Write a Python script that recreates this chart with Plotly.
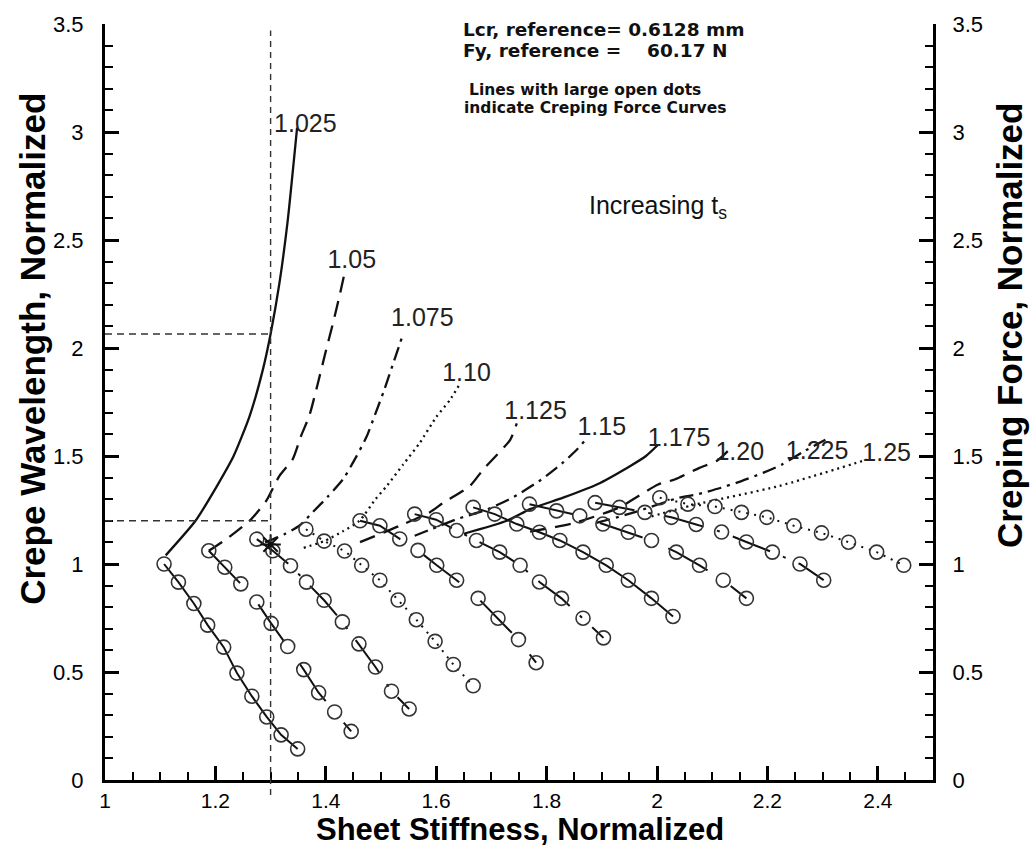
import plotly.graph_objects as go

# ---------------- data ----------------
ts_labels = ["1.025", "1.05", "1.075", "1.10", "1.125", "1.15", "1.175", "1.20", "1.225", "1.25"]
line_styles = ["solid", "long", "dashdot", "dot", "long", "dashdot", "solid", "long", "dashdot", "dot"]

# Creping force curves (large open dots)
fx_1025 = [1.107, 1.133, 1.161, 1.186, 1.215, 1.239, 1.266, 1.293, 1.319, 1.349]
fy_1025 = [1.000, 0.916, 0.817, 0.717, 0.615, 0.495, 0.388, 0.292, 0.209, 0.144]
fx_105 = [1.188, 1.217, 1.246, 1.275, 1.301, 1.331, 1.360, 1.387, 1.416, 1.446]
fy_105 = [1.061, 0.985, 0.908, 0.824, 0.725, 0.618, 0.511, 0.404, 0.315, 0.225]
fx_1075 = [1.275, 1.304, 1.336, 1.365, 1.397, 1.430, 1.460, 1.490, 1.519, 1.551]
fy_1075 = [1.115, 1.061, 0.992, 0.916, 0.832, 0.732, 0.630, 0.523, 0.411, 0.329]
fx_110 = [1.364, 1.397, 1.434, 1.465, 1.498, 1.531, 1.564, 1.598, 1.631, 1.667]
fy_110 = [1.161, 1.106, 1.060, 0.994, 0.925, 0.833, 0.742, 0.642, 0.535, 0.436]
fx_1125 = [1.462, 1.498, 1.534, 1.567, 1.601, 1.637, 1.676, 1.712, 1.749, 1.781]
fy_1125 = [1.200, 1.177, 1.116, 1.063, 0.994, 0.925, 0.841, 0.749, 0.650, 0.543]
fx_115 = [1.561, 1.600, 1.637, 1.673, 1.715, 1.752, 1.787, 1.827, 1.866, 1.903]
fy_115 = [1.231, 1.205, 1.155, 1.109, 1.055, 0.994, 0.917, 0.841, 0.749, 0.658]
fx_1175 = [1.667, 1.706, 1.746, 1.787, 1.824, 1.866, 1.908, 1.948, 1.990, 2.029]
fy_1175 = [1.262, 1.231, 1.185, 1.147, 1.109, 1.055, 0.994, 0.925, 0.841, 0.757]
fx_120 = [1.769, 1.818, 1.860, 1.902, 1.948, 1.990, 2.035, 2.077, 2.120, 2.162]
fy_120 = [1.277, 1.246, 1.223, 1.185, 1.147, 1.109, 1.055, 0.994, 0.925, 0.841]
fx_1225 = [1.888, 1.932, 1.978, 2.026, 2.071, 2.117, 2.162, 2.209, 2.259, 2.302]
fy_1225 = [1.284, 1.262, 1.239, 1.216, 1.183, 1.148, 1.102, 1.055, 1.000, 0.925]
fx_125 = [2.005, 2.056, 2.105, 2.153, 2.199, 2.248, 2.298, 2.347, 2.398, 2.447]
fy_125 = [1.307, 1.277, 1.266, 1.239, 1.216, 1.177, 1.144, 1.101, 1.055, 0.994]

# Crepe wavelength curves (plain lines)
wx_1025 = [1.110, 1.164, 1.203, 1.233, 1.262, 1.286, 1.300, 1.316, 1.331, 1.348]
wy_1025 = [1.040, 1.200, 1.362, 1.500, 1.685, 1.900, 2.065, 2.300, 2.590, 3.020]
wx_105 = [1.188, 1.224, 1.265, 1.292, 1.316, 1.340, 1.355, 1.370, 1.385, 1.400, 1.413, 1.426, 1.436]
wy_105 = [1.061, 1.123, 1.208, 1.292, 1.408, 1.485, 1.592, 1.685, 1.830, 1.985, 2.115, 2.254, 2.370]
wx_1075 = [1.290, 1.325, 1.352, 1.376, 1.403, 1.432, 1.455, 1.474, 1.489, 1.505, 1.521, 1.538]
wy_1075 = [1.100, 1.138, 1.177, 1.239, 1.310, 1.395, 1.496, 1.590, 1.690, 1.800, 1.920, 2.050]
wx_110 = [1.360, 1.397, 1.430, 1.461, 1.490, 1.510, 1.540, 1.570, 1.600, 1.625, 1.642]
wy_110 = [1.075, 1.106, 1.150, 1.200, 1.300, 1.360, 1.460, 1.560, 1.680, 1.760, 1.830]
wx_1125 = [1.462, 1.534, 1.588, 1.613, 1.661, 1.685, 1.734, 1.746]
wy_1125 = [1.101, 1.177, 1.239, 1.284, 1.361, 1.437, 1.575, 1.651]
wx_115 = [1.561, 1.592, 1.640, 1.690, 1.740, 1.790, 1.830, 1.855, 1.872]
wy_115 = [1.131, 1.162, 1.210, 1.250, 1.310, 1.390, 1.470, 1.530, 1.580]
wx_1175 = [1.650, 1.728, 1.770, 1.830, 1.891, 1.951, 1.980, 2.002]
wy_1175 = [1.140, 1.200, 1.254, 1.307, 1.368, 1.453, 1.500, 1.552]
wx_120 = [1.770, 1.850, 1.930, 2.002, 2.032, 2.077, 2.110, 2.135]
wy_120 = [1.150, 1.190, 1.260, 1.368, 1.391, 1.445, 1.480, 1.540]
wx_1225 = [1.890, 1.960, 2.040, 2.072, 2.116, 2.153, 2.192, 2.226, 2.266, 2.305]
wy_1225 = [1.190, 1.240, 1.307, 1.322, 1.353, 1.384, 1.422, 1.460, 1.521, 1.575]
wx_125 = [1.990, 2.064, 2.221, 2.380]
wy_125 = [1.220, 1.272, 1.361, 1.483]

# curve label positions
label_x = [1.363, 1.447, 1.575, 1.655, 1.780, 1.900, 2.040, 2.150, 2.290, 2.416]
label_y = [3.030, 2.400, 2.130, 1.875, 1.700, 1.625, 1.575, 1.510, 1.514, 1.506]

# reference point and guide lines
ref_x = [1.30]
ref_y = [1.09]
guide_x = 1.30
guide_y_hi = 2.065
guide_y_lo = 1.20

x_ticks = [1.0, 1.2, 1.4, 1.6, 1.8, 2.0, 2.2, 2.4]
x_ticktext = ["1", "1.2", "1.4", "1.6", "1.8", "2", "2.2", "2.4"]
y_ticks = [0, 0.5, 1, 1.5, 2, 2.5, 3, 3.5]
y_ticktext = ["0", "0.5", "1", "1.5", "2", "2.5", "3", "3.5"]

force_x = [fx_1025, fx_105, fx_1075, fx_110, fx_1125, fx_115, fx_1175, fx_120, fx_1225, fx_125]
force_y = [fy_1025, fy_105, fy_1075, fy_110, fy_1125, fy_115, fy_1175, fy_120, fy_1225, fy_125]
wave_x = [wx_1025, wx_105, wx_1075, wx_110, wx_1125, wx_115, wx_1175, wx_120, wx_1225, wx_125]
wave_y = [wy_1025, wy_105, wy_1075, wy_110, wy_1125, wy_115, wy_1175, wy_120, wy_1225, wy_125]

# ---------------- styling ----------------
INK = "#111111"
wave_dash = {"solid": "solid", "long": "16px,9px", "dashdot": "14px,6px,3px,6px", "dot": "2px,4px"}
force_dash = {"solid": "solid", "long": "45px,28px", "dashdot": "40px,14px,3px,14px", "dot": "2px,6px"}
SANS = "Liberation Sans, Arial, sans-serif"

fig = go.Figure()

for i, lab in enumerate(ts_labels):
    fig.add_trace(go.Scatter(
        x=wave_x[i], y=wave_y[i], mode="lines",
        line=dict(color=INK, width=2.3, dash=wave_dash[line_styles[i]], shape="spline", smoothing=0.6),
        showlegend=False, hoverinfo="skip"))

for i, lab in enumerate(ts_labels):
    fig.add_trace(go.Scatter(
        x=force_x[i], y=force_y[i], mode="lines+markers",
        line=dict(color=INK, width=2.0, dash=force_dash[line_styles[i]]),
        marker=dict(symbol="circle-open", size=14, color="#333333", line=dict(width=1.6)),
        showlegend=False, hoverinfo="skip"))

fig.add_trace(go.Scatter(
    x=ref_x, y=ref_y, mode="markers",
    marker=dict(symbol="asterisk-open", size=17, color=INK, line=dict(width=2, color=INK)),
    showlegend=False, hoverinfo="skip"))

# curve labels
fig.add_trace(go.Scatter(
    x=label_x, y=label_y, mode="text", text=ts_labels,
    textfont=dict(family=SANS, size=25, color="#222222"),
    showlegend=False, hoverinfo="skip"))

# invisible trace for right axis
fig.add_trace(go.Scatter(x=[1.0], y=[0.0], yaxis="y2", mode="markers",
                         marker=dict(opacity=0), showlegend=False, hoverinfo="skip"))

# guide lines
ymax = 3.5
fig.add_shape(type="line", xref="x", yref="paper", x0=guide_x, x1=guide_x,
              y0=-0.07 / ymax, y1=3.47 / ymax, line=dict(color="#333333", width=1.4, dash="6px,5px"))
fig.add_shape(type="line", xref="x", yref="y", x0=1.0, x1=guide_x, y0=guide_y_hi, y1=guide_y_hi,
              line=dict(color="#333333", width=1.4, dash="7px,5px"))
fig.add_shape(type="line", xref="x", yref="y", x0=1.0, x1=guide_x, y0=guide_y_lo, y1=guide_y_lo,
              line=dict(color="#333333", width=1.4, dash="7px,5px"))

# text annotations
PT = 19.5   # plot top in px
PH = 760.0  # plot height in px
PL = 105.0
PW = 828.0
def px2paper(px, py):
    return (px - PL) / PW, 1 - (py - PT) / PH

hdr_font = dict(family="DejaVu Sans, Liberation Sans, Arial", size=18.5, color="#111111")
note_font = dict(family="DejaVu Sans, Liberation Sans, Arial", size=15.5, color="#111111")
for txt, (px, py), f in [
    ("<b>Lcr, reference= 0.6128 mm</b>", (461, 25), hdr_font),
    ("<b>Fy, reference =    60.17 N</b>", (461, 46), hdr_font),
    ("<b>Lines with large open dots</b>", (467, 86), note_font),
    ("<b>indicate Creping Force Curves</b>", (462, 104), note_font),
]:
    ax, ay = px2paper(px, py)
    fig.add_annotation(xref="paper", yref="paper", x=ax, y=ay, text=txt, showarrow=False,
                       xanchor="left", yanchor="middle", font=f)
ax, ay = px2paper(587, 203)
fig.add_annotation(xref="paper", yref="paper", x=ax, y=ay, text="Increasing t<sub>s</sub>",
                   showarrow=False, xanchor="left", yanchor="middle",
                   font=dict(family=SANS, size=25, color="#111111"))

# axis titles (placed as in the reference)
title_font = dict(family=SANS, size=35, color="black")
ax, ay = px2paper(520, 829)
fig.add_annotation(xref="paper", yref="paper", x=ax, y=ay, text="<b>Sheet Stiffness, Normalized</b>",
                   showarrow=False, xanchor="center", yanchor="middle",
                   font=dict(family=SANS, size=31, color="black"))
ax, ay = px2paper(33, 346)
fig.add_annotation(xref="paper", yref="paper", x=ax, y=ay, text="<b>Crepe Wavelength, Normalized</b>",
                   showarrow=False, xanchor="center", yanchor="middle", textangle=-90, font=title_font)
ax, ay = px2paper(1010, 323)
fig.add_annotation(xref="paper", yref="paper", x=ax, y=ay, text="<b>Creping Force, Normalized</b>",
                   showarrow=False, xanchor="center", yanchor="middle", textangle=-90, font=title_font)

axis_common = dict(
    showgrid=False, zeroline=False, showline=True, linewidth=3, linecolor="black",
    ticks="inside", ticklen=14, tickwidth=3, tickcolor="black",
)

fig.update_layout(
    width=1036, height=850,
    margin=dict(l=105, r=103, t=20, b=70),
    paper_bgcolor="white", plot_bgcolor="white",
    showlegend=False,
    xaxis=dict(range=[1.0, 2.5], tickvals=x_ticks, ticktext=x_ticktext,
               minor=dict(dtick=0.05, tick0=1.0, ticks="inside", ticklen=8, tickwidth=1.5, tickcolor="black"),
               ticklabelstandoff=0,
               tickfont=dict(family=SANS, size=21, color="black"),
               **axis_common),
    yaxis=dict(range=[0, 3.5], tickvals=y_ticks, ticktext=y_ticktext,
               minor=dict(dtick=0.1, tick0=0, ticks="inside", ticklen=8, tickwidth=1.5, tickcolor="black"),
               ticklabelstandoff=14,
               tickfont=dict(family=SANS, size=22, color="black"),
               **axis_common),
    yaxis2=dict(range=[0, 3.5], tickvals=y_ticks, ticktext=y_ticktext, overlaying="y", side="right",
                minor=dict(dtick=0.1, tick0=0, ticks="inside", ticklen=8, tickwidth=1.5, tickcolor="black"),
                ticklabelstandoff=12,
                tickfont=dict(family=SANS, size=22, color="black"),
                **axis_common),
)

fig.write_html("out.html")
